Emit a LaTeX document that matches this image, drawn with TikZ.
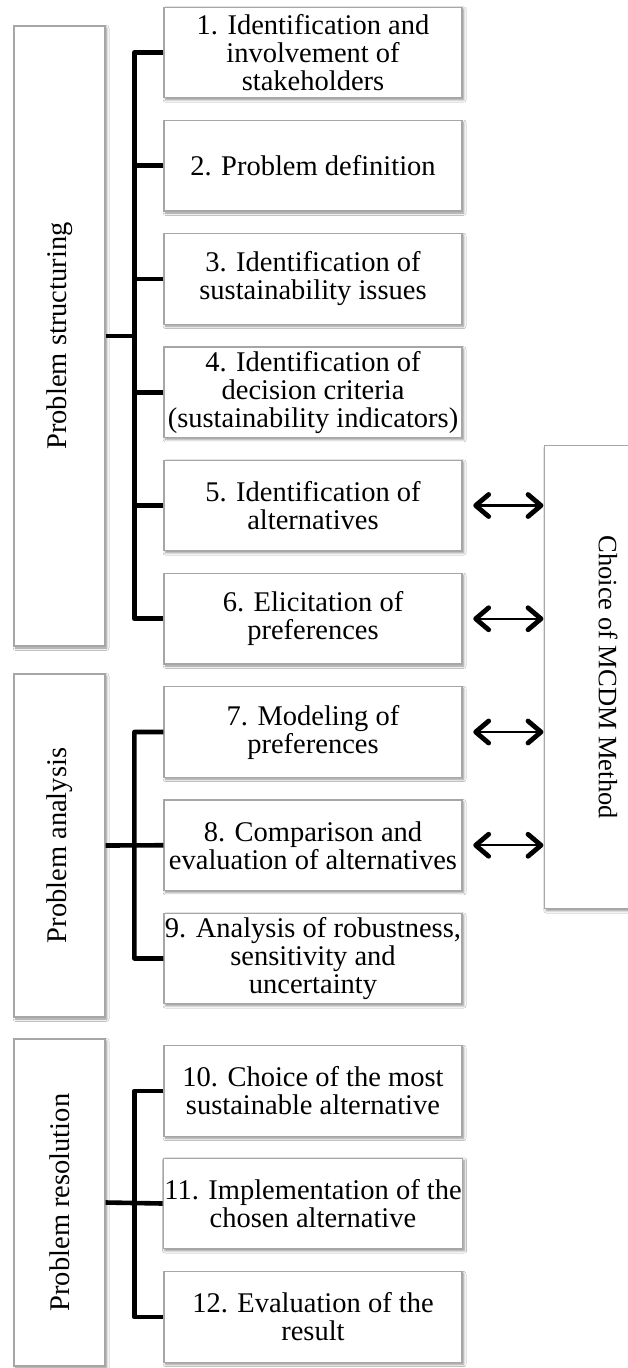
\documentclass[tikz,border=0pt]{standalone}
\usepackage{fontspec}
\usepackage{graphicx}
\setmainfont{Liberation Serif}
\usetikzlibrary{shadows.blur}

\definecolor{boxgray}{HTML}{A6A6A6}

\tikzset{
  x=1pt, y=-1pt,
  framed/.style={draw=boxgray, line width=1.3pt, fill=white, inner sep=1pt,
    align=center, font=\fontsize{28.5}{28}\selectfont,
    blur shadow={shadow xshift=1.6pt, shadow yshift=-2pt,
      shadow blur radius=2.4pt, shadow opacity=45}},
  stepbox/.style={framed, minimum width=298pt, minimum height=90.5pt},
  phasebox/.style={framed, minimum width=91pt},
  bus/.style={line width=4.6pt, black, line join=round},
  shaft/.style={line width=2.4pt, black},
  chevron/.style={line width=4.8pt, black, line cap=round, line join=round},
}

\begin{document}
\begin{tikzpicture}
\useasboundingbox (0,0) rectangle (628,1368);
\clip (0,0) rectangle (628,1368);
\fill[white] (0,0) rectangle (628,1368);

% phases on the left
\node[phasebox, minimum height=620pt] (pA) at (59.5,336)
  {\rotatebox{90}{Problem structuring}};
\node[phasebox, minimum height=343pt] (pB) at (59.5,845.5)
  {\rotatebox{90}{Problem analysis}};
\node[phasebox, minimum height=327pt] (pC) at (59.5,1202.5)
  {\rotatebox{90}{Problem resolution}};

% method choice on the right
\node[framed, minimum width=130pt, minimum height=463pt, anchor=north west] (mc) at (544,445) {};
\node[font=\fontsize{26.5}{28}\selectfont, inner sep=0pt] (mclabel) at ([xshift=64pt]mc.west)
  {\rotatebox{-90}{Choice of MCDM Method}};

% the twelve steps
\node[stepbox] (b1) at (313,52.5) {1. Identification and\\involvement of\\stakeholders};
\node[stepbox] (b2) at (313,165.75) {2. Problem definition};
\node[stepbox] (b3) at (313,279) {3. Identification of\\sustainability issues};
\node[stepbox] (b4) at (313,392.25) {4. Identification of\\decision criteria\\(sustainability indicators)};
\node[stepbox] (b5) at (313,505.5) {5. Identification of\\alternatives};
\node[stepbox] (b6) at (313,618.75) {6. Elicitation of\\preferences};
\node[stepbox] (b7) at (313,732) {7. Modeling of\\preferences};
\node[stepbox] (b8) at (313,845.25) {8. Comparison and\\evaluation of alternatives};
\node[stepbox] (b9) at (313,958.5) {9. Analysis of robustness,\\sensitivity and\\uncertainty};
\node[stepbox] (b10) at (313,1091) {10. Choice of the most\\sustainable alternative};
\node[stepbox] (b11) at (313,1203.5) {11. Implementation of the\\chosen alternative};
\node[stepbox] (b12) at (313,1317) {12. Evaluation of the\\result};

% brackets joining each phase to its steps
\draw[bus] (b1.west) -- ([xshift=-29pt]b1.west) -- ([xshift=-29pt]b6.west) -- (b6.west);
\foreach \i in {2,3,4,5} \draw[bus] (b\i.west) -- ++(-29,0);
\draw[bus] (pA.east) -- ++(30,0);

\draw[bus] (b7.west) -- ([xshift=-29pt]b7.west) -- ([xshift=-29pt]b9.west) -- (b9.west);
\draw[bus] (pB.east) -- (b8.west);

\draw[bus] (b10.west) -- ([xshift=-29pt]b10.west) -- ([xshift=-29pt]b12.west) -- (b12.west);
\draw[bus] (pC.east) -- (b11.west);

% two-way links to the method choice
\foreach \i in {5,6,7,8} {
  \coordinate (l\i) at ([xshift=13pt]b\i.east);
  \coordinate (r\i) at ([xshift=-3pt]b\i.east -| mc.west);
  \draw[shaft] (l\i) -- (r\i);
  \draw[chevron] ([xshift=13pt,yshift=11pt]l\i) -- (l\i) -- ([xshift=13pt,yshift=-11pt]l\i);
  \draw[chevron] ([xshift=-13pt,yshift=11pt]r\i) -- (r\i) -- ([xshift=-13pt,yshift=-11pt]r\i);
}
\end{tikzpicture}
\end{document}
